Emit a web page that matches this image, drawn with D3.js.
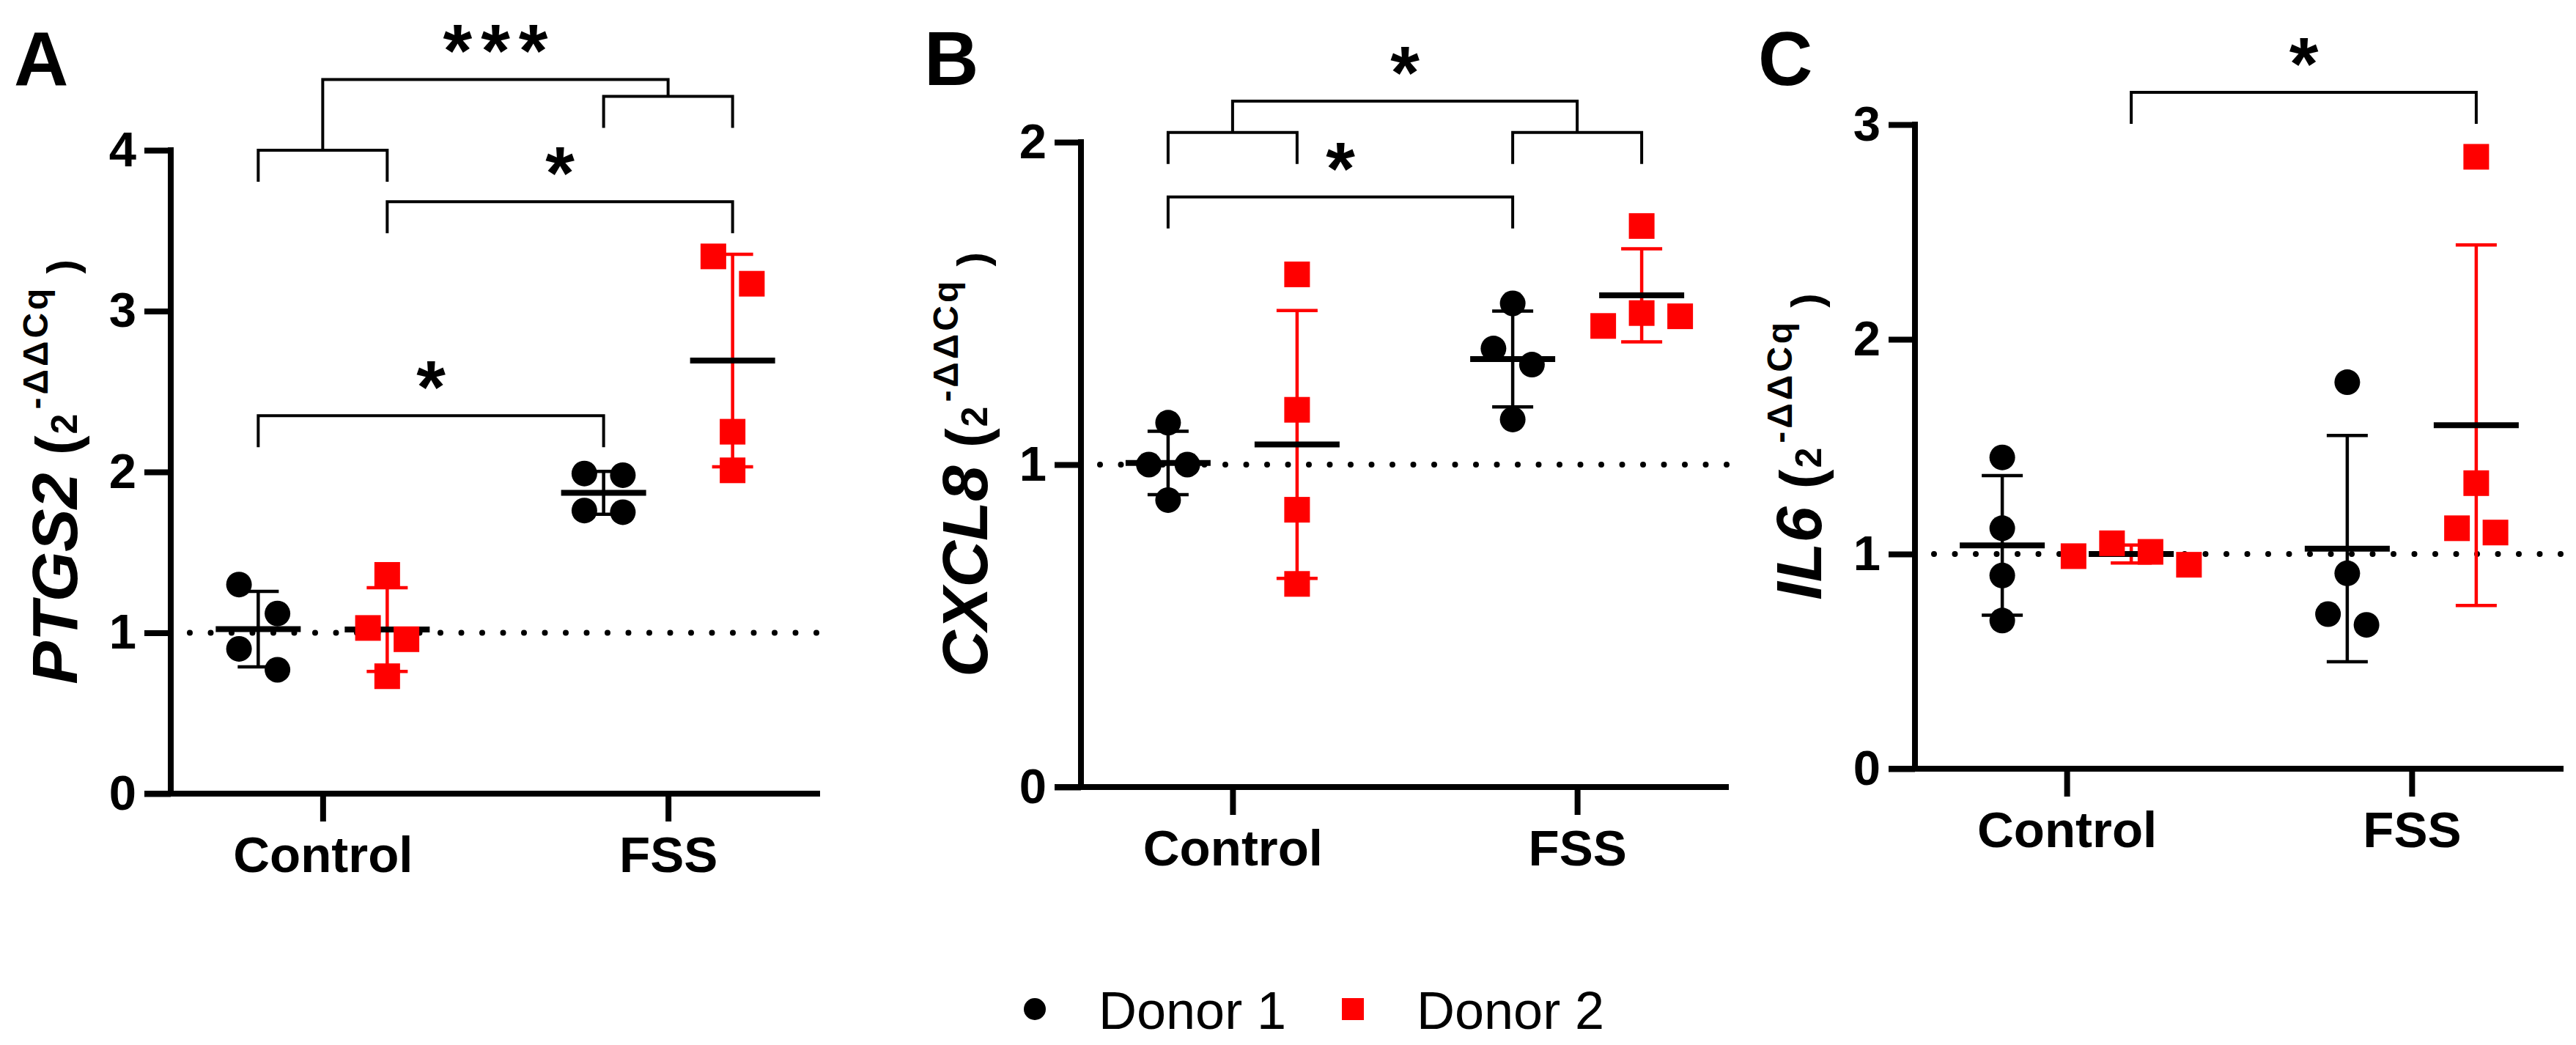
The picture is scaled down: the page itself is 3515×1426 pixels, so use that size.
<!DOCTYPE html>
<html>
<head>
<meta charset="utf-8">
<script src="https://d3js.org/d3.v7.min.js"></script>
<style>
	body { margin: 0; background: #fff; }
	svg text { font-family: 'Liberation Sans', Arial, Helvetica, sans-serif; white-space: pre; }
</style>
</head>
<body>
<svg id="chart" width="3515" height="1426"></svg>
<script>
// Categories
var groups = ['Control', 'FSS'],
	donors = ['Donor 1', 'Donor 2'];

// PTGS2 (2^-ddCq), one array per group and donor
var ptgs2Control1 = [1.30, 1.12, 0.90, 0.77],
	ptgs2Control2 = [1.36, 1.03, 0.96, 0.73],
	ptgs2Fss1 = [1.99, 1.98, 1.75, 1.76],
	ptgs2Fss2 = [3.34, 3.17, 2.25, 2.01],
	ptgs2Ticks = [0, 1, 2, 3, 4];

// CXCL8
var cxcl8Control1 = [1.13, 1.00, 1.00, 0.89],
	cxcl8Control2 = [1.59, 1.17, 0.86, 0.63],
	cxcl8Fss1 = [1.50, 1.36, 1.31, 1.14],
	cxcl8Fss2 = [1.74, 1.47, 1.46, 1.43],
	cxcl8Ticks = [0, 1, 2];

// IL6
var il6Control1 = [1.45, 1.12, 0.90, 0.69],
	il6Control2 = [1.05, 1.01, 0.99, 0.95],
	il6Fss1 = [1.80, 0.91, 0.72, 0.67],
	il6Fss2 = [2.85, 1.33, 1.12, 1.10],
	il6Ticks = [0, 1, 2, 3];

// Significance brackets: ends are [group, donor index] or the index of an earlier bracket
var ptgs2Brackets = [
	{ a: ['Control', 0], b: ['Control', 1], y: 4.00, label: '' },
	{ a: ['FSS', 0], b: ['FSS', 1], y: 4.335, label: '' },
	{ a: 0, b: 1, y: 4.44, label: '***' },
	{ a: ['Control', 1], b: ['FSS', 1], y: 3.68, label: '*' },
	{ a: ['Control', 0], b: ['FSS', 0], y: 2.35, label: '*' }
];
var cxcl8Brackets = [
	{ a: ['Control', 0], b: ['Control', 1], y: 2.03, label: '' },
	{ a: ['FSS', 0], b: ['FSS', 1], y: 2.03, label: '' },
	{ a: 0, b: 1, y: 2.127, label: '*' },
	{ a: ['Control', 0], b: ['FSS', 0], y: 1.83, label: '*' }
];
var il6Brackets = [
	{ a: ['Control', 1], b: ['FSS', 1], y: 3.15, label: '*' }
];

// Layout
var panels = [
	{ key: 'A', gene: 'PTGS2', series: [[ptgs2Control1, ptgs2Control2], [ptgs2Fss1, ptgs2Fss2]],
		ticks: ptgs2Ticks, brackets: ptgs2Brackets, left: 233, right: 1119, top: 205, bottom: 1083 },
	{ key: 'B', gene: 'CXCL8', series: [[cxcl8Control1, cxcl8Control2], [cxcl8Fss1, cxcl8Fss2]],
		ticks: cxcl8Ticks, brackets: cxcl8Brackets, left: 1475, right: 2359, top: 194, bottom: 1074 },
	{ key: 'C', gene: 'IL6', series: [[il6Control1, il6Control2], [il6Fss1, il6Fss2]],
		ticks: il6Ticks, brackets: il6Brackets, left: 2613, right: 3498, top: 170, bottom: 1049 }
];

var donorColor = ['#000000', '#ff0000'],
	markerSize = 35,
	axisWidth = 8,
	legLength = 43;

var svg = d3.select('#chart');

/*
 * Spread points that sit too close vertically, then centre each cluster
 */
function dodge(values, y, size) {
	var step = size * 1.5,
		gap = size * 1.3,
		candidates = [0, 1, -1, 2, -2, 3, -3],
		order = d3.range(values.length).sort(function(a, b) { return values[b] - values[a]; }),
		placed = [],
		offsets = [];

	order.forEach(function(i) {
		var py = y(values[i]), chosen = 0;
		for (var k = 0; k < candidates.length; k++) {
			var ox = candidates[k] * step;
			var hit = placed.some(function(q) {
				return Math.abs(q.y - py) < gap && Math.abs(q.x - ox) < step * 0.9;
			});
			if (!hit) { chosen = ox; break; }
		}
		offsets[i] = chosen;
		placed.push({ x: chosen, y: py });
	});

	var clusters = [], current = [];
	order.forEach(function(i, n) {
		if (n > 0 && Math.abs(y(values[order[n - 1]]) - y(values[i])) >= gap) {
			clusters.push(current);
			current = [];
		}
		current.push(i);
	});
	clusters.push(current);
	clusters.forEach(function(c) {
		var ext = d3.extent(c, function(i) { return offsets[i]; }),
			mid = (ext[0] + ext[1]) / 2;
		c.forEach(function(i) { offsets[i] -= mid; });
	});
	return offsets;
}

function drawPanel(p) {
	var g = svg.append('g').attr('class', 'panel panel-' + p.key);

	var x = d3.scalePoint().domain(groups).range([p.left, p.right]).padding(0.44),
		dx = d3.scalePoint().domain(d3.range(donors.length)).range([-88, 88]),
		y = d3.scaleLinear().domain([0, d3.max(p.ticks)]).range([p.bottom, p.top]);

	// Y axis
	var yg = g.append('g')
		.attr('transform', 'translate(' + p.left + ',0)')
		.call(d3.axisLeft(y).tickValues(p.ticks).tickFormat(d3.format('d'))
			.tickSize(36).tickPadding(11).tickSizeOuter(0));
	yg.select('.domain').remove();
	yg.attr('font-family', null).attr('font-size', 67).attr('font-weight', 'bold');
	yg.selectAll('.tick line').attr('stroke', '#000').attr('stroke-width', axisWidth);
	yg.selectAll('.tick text').attr('fill', '#000');
	g.append('line')
		.attr('x1', p.left).attr('x2', p.left)
		.attr('y1', p.bottom + axisWidth / 2).attr('y2', p.top - axisWidth / 2)
		.attr('stroke', '#000').attr('stroke-width', axisWidth);

	// X axis
	var xg = g.append('g')
		.attr('transform', 'translate(0,' + p.bottom + ')')
		.call(d3.axisBottom(x).tickSize(38).tickPadding(20).tickSizeOuter(0));
	xg.select('.domain').remove();
	xg.attr('font-family', null).attr('font-size', 69).attr('font-weight', 'bold');
	xg.selectAll('.tick line').attr('stroke', '#000').attr('stroke-width', axisWidth);
	xg.selectAll('.tick text').attr('fill', '#000');
	g.append('line')
		.attr('x1', p.left - 36).attr('x2', p.right)
		.attr('y1', p.bottom).attr('y2', p.bottom)
		.attr('stroke', '#000').attr('stroke-width', axisWidth);

	// Reference line at 1
	g.append('line')
		.attr('x1', p.left + 26).attr('x2', p.right)
		.attr('y1', y(1)).attr('y2', y(1))
		.attr('stroke', '#000').attr('stroke-width', 8)
		.attr('stroke-linecap', 'round').attr('stroke-dasharray', '0 28.5');

	// Series
	var series = [];
	groups.forEach(function(grp, gi) {
		p.series[gi].forEach(function(values, di) {
			series.push({ group: grp, donor: di, values: values, cx: x(grp) + dx(di),
				mean: d3.mean(values), sd: d3.deviation(values) });
		});
	});

	var s = g.selectAll('.series')
		.data(series)
		.enter().append('g')
		.attr('class', 'series');

	// error bars (mean +/- SD)
	s.append('path')
		.attr('fill', 'none')
		.attr('stroke', function(d) { return donorColor[d.donor]; })
		.attr('stroke-width', 4.5)
		.attr('d', function(d) {
			var hi = y(d.mean + d.sd), lo = y(d.mean - d.sd), c = 28;
			return 'M' + d.cx + ',' + hi + 'V' + lo +
				'M' + (d.cx - c) + ',' + hi + 'H' + (d.cx + c) +
				'M' + (d.cx - c) + ',' + lo + 'H' + (d.cx + c);
		});

	// mean
	s.append('line')
		.attr('x1', function(d) { return d.cx - 58; })
		.attr('x2', function(d) { return d.cx + 58; })
		.attr('y1', function(d) { return y(d.mean); })
		.attr('y2', function(d) { return y(d.mean); })
		.attr('stroke', '#000').attr('stroke-width', 8);

	// points
	s.each(function(d) {
		var offsets = dodge(d.values, y, markerSize),
			pts = d.values.map(function(v, i) { return { v: v, ox: offsets[i] }; }),
			sel = d3.select(this);
		if (d.donor === 0) {
			sel.selectAll('circle').data(pts).enter().append('circle')
				.attr('cx', function(q) { return d.cx + q.ox; })
				.attr('cy', function(q) { return y(q.v); })
				.attr('r', markerSize / 2)
				.attr('fill', donorColor[0]);
		} else {
			sel.selectAll('rect').data(pts).enter().append('rect')
				.attr('x', function(q) { return d.cx + q.ox - markerSize / 2; })
				.attr('y', function(q) { return y(q.v) - markerSize / 2; })
				.attr('width', markerSize).attr('height', markerSize)
				.attr('fill', donorColor[1]);
		}
	});

	// Significance brackets
	var done = [];
	p.brackets.forEach(function(b, bi) {
		var by = y(b.y);
		function end(e) {
			if (typeof e === 'number') return [done[e].mid, done[e].y];
			return [x(e[0]) + dx(e[1]), by + legLength];
		}
		var a = end(b.a), c = end(b.b);
		done[bi] = { mid: (a[0] + c[0]) / 2, y: by };

		g.append('path')
			.attr('fill', 'none').attr('stroke', '#000').attr('stroke-width', 4)
			.attr('d', d3.line()([a, [a[0], by], [c[0], by], c]));

		if (b.label) {
			g.append('text')
				.attr('x', done[bi].mid + (b.label.length > 1 ? 6 : 0))
				.attr('y', by - 4)
				.attr('text-anchor', 'middle')
				.attr('font-size', 102).attr('font-weight', 'bold')
				.attr('letter-spacing', b.label.length > 1 ? 12 : 0)
				.text(b.label);
		}
	});

	// Y title: gene in italics, then (2^-ddCq)
	var title = g.append('text')
		.attr('transform', 'translate(' + (p.left - 128) + ',' + (p.top + p.bottom) / 2 + ') rotate(-90)')
		.attr('text-anchor', 'middle')
		.attr('font-weight', 'bold');
	title.append('tspan').attr('font-style', 'italic').attr('font-size', 88).text(p.gene);
	title.append('tspan').attr('font-size', 80).attr('letter-spacing', 2).text(' (');
	title.append('tspan').attr('font-size', 50).attr('letter-spacing', 6).text('2');
	title.append('tspan').attr('font-size', 48).attr('letter-spacing', 4).attr('dy', -40).text('-\u0394\u0394Cq');
	title.append('tspan').attr('font-size', 58).attr('dy', 40).text(' )');

	// Panel letter
	g.append('text')
		.attr('x', p.left - 214).attr('y', 116)
		.attr('font-size', 103).attr('font-weight', 'bold')
		.text(p.key);
}

panels.forEach(drawPanel);

// Legend
var legend = svg.append('g')
	.attr('class', 'legend')
	.attr('transform', 'translate(1412,1377)');

var item = legend.selectAll('.item')
	.data(donors)
	.enter().append('g')
	.attr('class', 'item')
	.attr('transform', function(d, i) { return 'translate(' + (i * 434) + ',0)'; });

item.filter(function(d, i) { return i === 0; }).append('circle')
	.attr('r', 15).attr('fill', donorColor[0]);
item.filter(function(d, i) { return i === 1; }).append('rect')
	.attr('x', -15).attr('y', -15).attr('width', 30).attr('height', 30)
	.attr('fill', donorColor[1]);
item.append('text')
	.attr('x', 87).attr('y', 27)
	.attr('font-size', 72)
	.text(function(d) { return d; });
</script>
</body>
</html>
